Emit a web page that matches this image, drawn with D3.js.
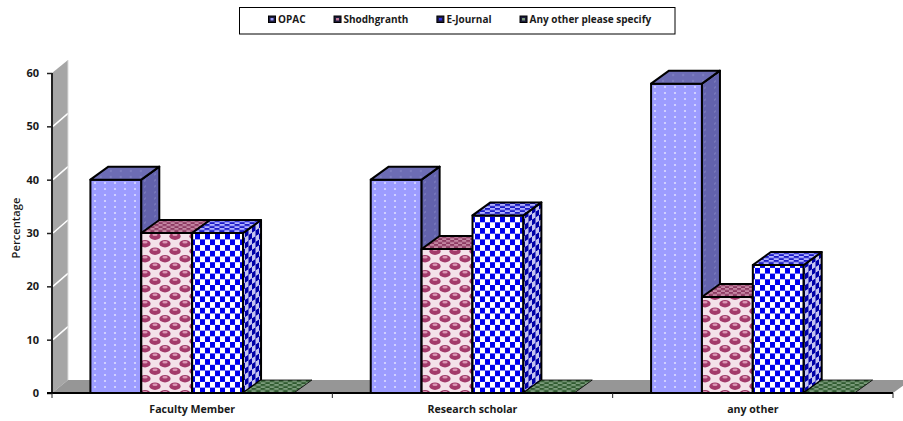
<!DOCTYPE html>
<html>
<head>
<meta charset="utf-8">
<script src="https://cdnjs.cloudflare.com/ajax/libs/d3/7.8.5/d3.min.js"></script>
<style>
html,body{margin:0;padding:0;background:#fff;overflow:hidden}
svg{display:block}
text{font-family:"Open Sans","Noto Sans",sans-serif;fill:#1a1a1a}
</style>
</head>
<body>
<svg id="chart" width="903" height="421"></svg>
<script>
const categories = ["Faculty Member", "Research scholar", "any other"];
const seriesNames = ["OPAC", "Shodhgranth", "E-Journal", "Any other please specify"];
const opacValues = [40, 40, 58];
const shodhgranthValues = [30, 27, 18];
const eJournalValues = [30, 33.3, 24];
const anyOtherValues = [0, 0, 0];
const yTicks = [0, 10, 20, 30, 40, 50, 60];
const allSeries = [opacValues, shodhgranthValues, eJournalValues, anyOtherValues];

const svg = d3.select("#chart");
const defs = svg.append("defs");

// Oblique projection offset of the 3-D box depth
const depthX = 18, depthY = -13;
const plot = {left: 52, right: 893, top: 73, bottom: 393};

const y = d3.scaleLinear().domain([0, 60]).range([plot.bottom, plot.top]);
const x0 = d3.scaleBand().domain(categories).range([plot.left, plot.right]);
const x1 = d3.scaleBand().domain(seriesNames).range([0, x0.bandwidth()]).paddingInner(0).paddingOuter(0.755);

// Fill patterns: each series has a front, a side and a top variant
function pattern(id, w, h, transform, draw) {
  const p = defs.append("pattern").attr("id", id)
    .attr("patternUnits", "userSpaceOnUse").attr("width", w).attr("height", h);
  if (transform) p.attr("patternTransform", transform);
  draw(p);
}
function dots(bg, dot, r) {
  return p => {
    p.append("rect").attr("width", 10).attr("height", 6).attr("fill", bg);
    p.append("circle").attr("cx", 5).attr("cy", 3).attr("r", r).attr("fill", dot);
  };
}
function checker(bg, sq, w, h) {
  return p => {
    p.append("rect").attr("width", w).attr("height", h).attr("fill", bg);
    p.append("rect").attr("width", w / 2).attr("height", h / 2).attr("fill", sq);
    p.append("rect").attr("x", w / 2).attr("y", h / 2).attr("width", w / 2).attr("height", h / 2).attr("fill", sq);
  };
}
function balls(bg, ball, shine) {
  return p => {
    p.append("rect").attr("width", 20).attr("height", 15).attr("fill", bg);
    [[5, 3.7], [15, 11.2], [-5, 11.2], [25, 3.7]].forEach(([cx, cy]) => {
      p.append("ellipse").attr("cx", cx).attr("cy", cy).attr("rx", 5.6).attr("ry", 3.7).attr("fill", ball);
      p.append("ellipse").attr("cx", cx).attr("cy", cy - 1.4).attr("rx", 2.6).attr("ry", 1.2).attr("fill", shine);
    });
  };
}
const shearTop = `skewX(${-depthX / depthY * -1})`;
const shearSide = `skewY(${depthY / depthX * 45})`;

pattern("opac-front", 10, 6, null, dots("#9c9cff", "#dcdcff", 1.1));
pattern("opac-side", 10, 6, shearSide, dots("#6262ac", "#8c8cc8", 0.8));
pattern("opac-top", 10, 6, shearTop, dots("#6c6cb4", "#9090cc", 0.8));

pattern("shodh-front", 20, 15, null, balls("#f4e2ea", "#a23a6a", "#dc98b6"));
pattern("shodh-top", 8, 4, shearTop, checker("#c688a4", "#8c3a62", 8, 4));

pattern("ejournal-front", 10, 11.4, null, checker("#ffffff", "#0000ee", 10, 11.4));
pattern("ejournal-side", 7, 11.4, shearSide, checker("#c4c4f0", "#0000a8", 7, 11.4));
pattern("ejournal-top", 10, 4, shearTop, checker("#b4b4ff", "#1818c8", 10, 4));

pattern("other-top", 9, 4, shearTop, checker("#7c9c7c", "#2f5a2f", 9, 4));

const seriesFill = [
  {front: "opac-front", side: "opac-side", top: "opac-top"},
  {front: "shodh-front", side: "shodh-top", top: "shodh-top"},
  {front: "ejournal-front", side: "ejournal-side", top: "ejournal-top"},
  {front: "other-top", side: "other-top", top: "other-top"}
];
const legendCore = ["#9c9cff", "#c07898", "#3030ee", "#7c9c7c"];

// Side wall and floor of the 3-D plot area
const wallTop = y(60) + depthY;
svg.append("path").attr("fill", "#a6a6a6")
  .attr("d", `M${plot.left},${plot.top}L${plot.left + depthX - 2},${wallTop}L${plot.left + depthX - 2},${plot.bottom + depthY}L${plot.left},${plot.bottom}Z`);
svg.append("path").attr("fill", "#969696")
  .attr("d", `M${plot.left},${plot.bottom}L${plot.left + depthX - 2},${plot.bottom + depthY}L${plot.right + depthX},${plot.bottom + depthY}L${plot.right},${plot.bottom}Z`);
svg.append("g").selectAll("line").data(yTicks.filter(t => t > 0 && t < 60)).join("line")
  .attr("x1", plot.left + 1).attr("x2", plot.left + depthX - 2)
  .attr("y1", d => y(d)).attr("y2", d => y(d) + depthY)
  .attr("stroke", "#fff").attr("stroke-width", 1.5);
svg.append("line").attr("x1", plot.left + depthX - 2).attr("x2", plot.left + depthX - 2)
  .attr("y1", wallTop).attr("y2", plot.bottom + depthY).attr("stroke", "#dcdcdc").attr("stroke-width", 1);

// 3-D bars, painted left to right so nearer neighbours overlap
const bars = svg.append("g").attr("stroke", "#000").attr("stroke-width", 2).attr("stroke-linejoin", "round");
categories.forEach((cat, c) => {
  seriesNames.forEach((name, s) => {
    const v = allSeries[s][c];
    const xl = x0(cat) + x1(name), xr = xl + x1.bandwidth();
    const yt = y(v), yb = y(0);
    const fill = seriesFill[s];
    const g = bars.append("g");
    if (v > 0) {
      g.append("rect").attr("x", xl).attr("y", yt).attr("width", xr - xl).attr("height", yb - yt)
        .attr("fill", `url(#${fill.front})`);
      g.append("path").attr("fill", `url(#${fill.side})`)
        .attr("d", `M${xr},${yt}L${xr + depthX},${yt + depthY}L${xr + depthX},${yb + depthY}L${xr},${yb}Z`);
      g.append("path").attr("fill", `url(#${fill.top})`)
        .attr("d", `M${xl},${yt}L${xl + depthX},${yt + depthY}L${xr + depthX},${yt + depthY}L${xr},${yt}Z`);
    } else {
      // Zero-height bar: only the flat top shows on the floor
      g.append("path").attr("fill", `url(#${fill.top})`).attr("stroke-width", 0.8)
        .attr("d", `M${xl},${yt}L${xl + depthX},${yt + depthY}L${xr + depthX},${yt + depthY}L${xr},${yt}Z`);
    }
  });
});

// Value axis
const yAxis = svg.append("g").attr("transform", `translate(${plot.left},0)`)
  .call(d3.axisLeft(y).tickValues(yTicks).tickSize(5).tickPadding(8).tickFormat(d3.format("d")));
yAxis.select(".domain").attr("stroke", "#222").attr("stroke-width", 2).attr("d", `M0,${plot.top}V${plot.bottom}`);
yAxis.selectAll(".tick line").attr("stroke", "#222").attr("stroke-width", 1.5);
yAxis.selectAll(".tick text").attr("font-size", 11).attr("font-weight", 700).attr("fill", "#1a1a1a")
  .attr("font-family", '"Open Sans","Noto Sans",sans-serif');

// Category axis: labels at band centres, separators at band edges
const xAxis = svg.append("g").attr("transform", `translate(0,${plot.bottom})`)
  .call(d3.axisBottom(x0).tickSize(0).tickPadding(12));
xAxis.select(".domain").attr("stroke", "#000").attr("stroke-width", 2).attr("d", `M${plot.left - 5},0H${plot.right}`);
xAxis.selectAll(".tick text").attr("font-size", 10.6).attr("font-weight", 700).attr("fill", "#1a1a1a")
  .attr("font-family", '"Open Sans","Noto Sans",sans-serif');
const edges = categories.map(c => x0(c)).concat([plot.right]);
svg.append("g").selectAll("line").data(edges).join("line")
  .attr("x1", d => d).attr("x2", d => d)
  .attr("y1", plot.bottom).attr("y2", plot.bottom + 5)
  .attr("stroke", "#222").attr("stroke-width", 1);

// Axis title
svg.append("text").attr("transform", "translate(20,228) rotate(-90)")
  .attr("text-anchor", "middle").attr("font-size", 11.2).attr("font-weight", 600).text("Percentage");

// Legend, laid out in sequence from measured label widths
svg.append("rect").attr("x", 239.5).attr("y", 7.5).attr("width", 435.5).attr("height", 26.5)
  .attr("fill", "#fff").attr("stroke", "#000").attr("stroke-width", 1);
let lx = 268;
seriesNames.forEach((name, s) => {
  svg.append("rect").attr("x", lx + 0.5).attr("y", 16).attr("width", 7).attr("height", 6.5)
    .attr("fill", "#1b1b3a").attr("stroke", "#000").attr("stroke-width", 1);
  svg.append("rect").attr("x", lx + 2.5).attr("y", 18).attr("width", 3).attr("height", 2.5)
    .attr("fill", legendCore[s]);
  const t = svg.append("text").attr("x", lx + 10).attr("y", 23)
    .attr("font-size", 10).attr("font-weight", 700).text(name);
  lx += 10 + t.node().getComputedTextLength() + 28;
});
</script>
</body>
</html>
